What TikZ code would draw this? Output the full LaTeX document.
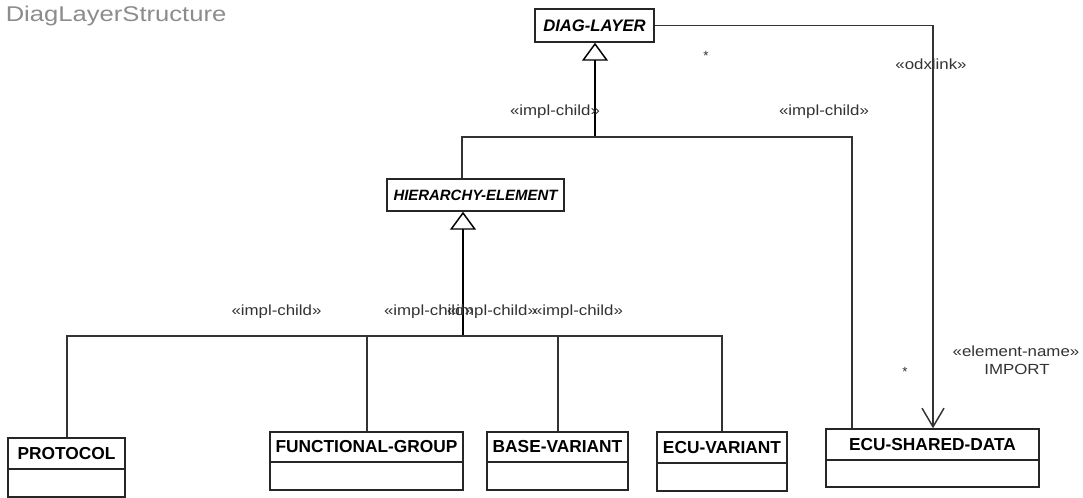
\documentclass[tikz,border=0pt]{standalone}
\usepackage{fontspec}
\setmainfont{Liberation Sans}
\newfontfamily\lblfont{Liberation Sans}[FakeStretch=1.15]
\newfontfamily\ttlfont{Liberation Sans}[FakeStretch=1.2]
\usetikzlibrary{arrows.meta,fit}

\tikzset{
  classbox/.style={draw=black!85, line width=1.1pt, inner sep=0pt, fill=white},
  boxline/.style={draw=black!85, line width=1.1pt},
  classname/.style={font=\fontsize{13}{15}\selectfont\bfseries, inner sep=0pt},
  abstractname/.style={font=\fontsize{12.5}{14}\selectfont\bfseries\itshape, inner sep=0pt},
  link/.style={draw=black!80, line width=1.1pt},
  genline/.style={draw=black, line width=2pt},
  gentip/.style={-{Triangle[open, length=13.5pt, width=19.5pt, line width=1.1pt]}},
  navtip/.style={-{Straight Barb[length=14pt, width=16.5pt, line width=1.1pt]}},
  stereo/.style={font=\lblfont\fontsize{11}{13}\selectfont, text=black!80, inner sep=0pt},
  mult/.style={font=\fontsize{10}{11}\selectfont, text=black!80, inner sep=0pt},
}

% class box with a name compartment and an empty attribute compartment
\newcommand\umlclass[7]{%
  \node[classbox, fit={(#3,#4) (#5,#6)}] (#1) {};
  \node[classname] (#1-name) at ({(#3+#5)/2},{(#4+#7)/2}) {#2};
  \draw[boxline] (#3,#7) -- (#5,#7);
}

\begin{document}
\begin{tikzpicture}[x=0.75pt,y=-0.75pt]
  \useasboundingbox (0,0) rectangle (1083,498);
  \fill[white] (0,0) rectangle (1083,498);

  % diagram title
  \node[anchor=west, inner sep=0pt, text=black!45,
        font=\ttlfont\fontsize{16}{18}\selectfont] (title) at (5.5,15.5) {DiagLayerStructure};

  % abstract classes
  \node[classbox, fit={(535,9) (654,42)}] (diag) {};
  \node[abstractname] (diag-name) at (diag.center) {DIAG-LAYER};
  \node[classbox, fit={(387,179) (564,211)}] (hier) {};
  \node[abstractname, font=\fontsize{11.2}{13}\selectfont\bfseries\itshape]
       (hier-name) at (hier.center) {HIERARCHY-ELEMENT};

  % concrete classes
  \umlclass{proto}{PROTOCOL}{8}{438}{125}{497}{469}
  \umlclass{fg}{FUNCTIONAL-GROUP}{270}{432}{463}{490}{462}
  \umlclass{bv}{BASE-VARIANT}{487}{432}{628}{490}{462}
  \umlclass{ev}{ECU-VARIANT}{657}{432}{787}{491}{463}
  \umlclass{esd}{ECU-SHARED-DATA}{826}{429}{1039}{487}{460}

  % generalization into DIAG-LAYER
  \coordinate (g1) at (595,137);
  \coordinate (b1) at (462,137);
  \coordinate (b2) at (852,137);
  \draw[genline, gentip] (g1) -- (g1 |- diag.south);
  \draw[link] (b1 |- hier.north) -- (b1) -- (b2) -- (b2 |- esd.north);

  % generalization into HIERARCHY-ELEMENT
  \coordinate (g2) at (463,336);
  \coordinate (c1) at (67,336);
  \coordinate (c2) at (367,336);
  \coordinate (c3) at (558,336);
  \coordinate (c4) at (722,336);
  \draw[genline, gentip] (g2) -- (g2 |- hier.south);
  \draw[link] (c1 |- proto.north) -- (c1) -- (c4) -- (c4 |- ev.north);
  \draw[link] (c2) -- (c2 |- fg.north);
  \draw[link] (c3) -- (c3 |- bv.north);

  % odxlink association
  \coordinate (odx) at (933,25.5);
  \draw[link, navtip] (diag.east) -- (odx) -- (odx |- esd.north);

  % stereotypes and multiplicities
  \node[stereo] (s1) at (555,112) {«impl-child»};
  \node[stereo] (s2) at (824,112) {«impl-child»};
  \node[stereo] (s3) at (931,64) {«odxlink»};
  \node[stereo] (s4) at (276.5,311.5) {«impl-child»};
  \node[stereo] (s5) at (429,311.5) {«impl-child»};
  \node[stereo] (s6) at (492,311.5) {«impl-child»};
  \node[stereo] (s7) at (578,311.5) {«impl-child»};
  \node[stereo] (s8) at (1016,351) {«element-name»};
  \node[stereo] (s9) at (1017,369) {IMPORT};
  \node[mult] (m1) at (706,55.5) {*};
  \node[mult] (m2) at (905,371.5) {*};
\end{tikzpicture}
\end{document}
